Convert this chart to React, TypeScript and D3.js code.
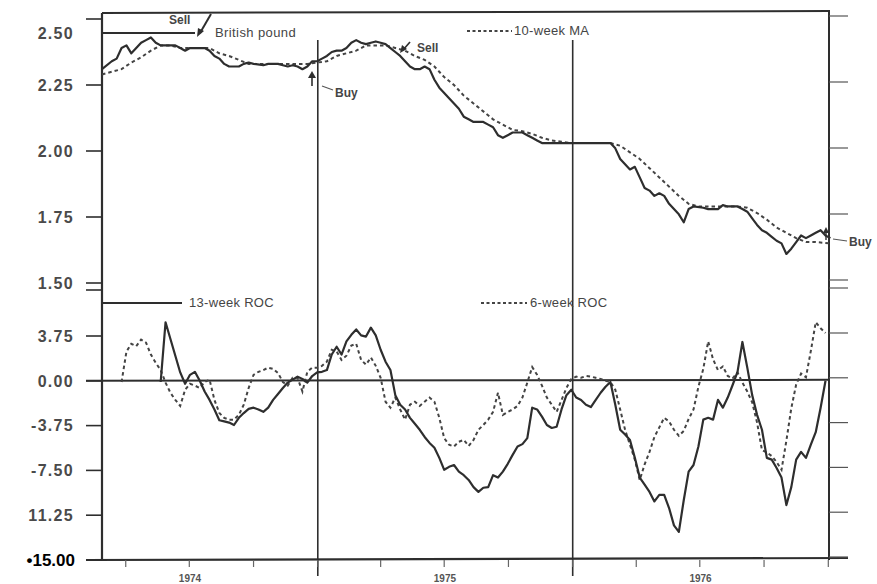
import React from "react";
import * as d3 from "d3";

// ---- time frame (weekly data, week 0 = 26 Feb 1974) ----
const START = new Date(1974, 1, 26);
const END = new Date(1977, 0, 2);

// ---- axis ticks ----
const poundTicks = [2.5, 2.25, 2.0, 1.75, 1.5];
const poundTickLabels = ["2.50", "2.25", "2.00", "1.75", "1.50"];
const rocTicks = [3.75, 0, -3.75, -7.5, -11.25, -15];
const rocTickLabels = ["3.75", "0.00", "-3.75", "-7.50", "11.25", "•15.00"];
const yearLabels = ["1974", "1975", "1976"];
const yearMidDates = [new Date(1974, 6, 2), new Date(1975, 6, 2), new Date(1976, 6, 2)];
const yearStarts = [new Date(1975, 0, 1), new Date(1976, 0, 1)];

// ---- British pound weekly close [week, price] ----
const britishPound: [number, number][] = [
  [0, 2.31], [2, 2.34], [3, 2.35], [4, 2.39], [5, 2.4], [6, 2.37], [7, 2.39], [8, 2.41], [9, 2.42],
  [10, 2.43], [11, 2.41], [12, 2.4], [15, 2.4], [16, 2.39], [17, 2.38], [18, 2.39], [21, 2.39],
  [22, 2.38], [23, 2.36], [24, 2.35], [25, 2.33], [26, 2.32], [28, 2.32], [29, 2.33], [30, 2.335],
  [31, 2.33], [33, 2.325], [34, 2.33], [36, 2.33], [37, 2.325], [38, 2.32], [39, 2.325], [40, 2.32],
  [41, 2.31], [42, 2.32], [43, 2.34], [44, 2.34], [45, 2.35], [46, 2.36], [47, 2.375], [48, 2.38],
  [49, 2.38], [50, 2.39], [51, 2.41], [52, 2.42], [53, 2.41], [54, 2.405], [55, 2.41], [56, 2.415],
  [57, 2.41], [58, 2.405], [59, 2.39], [60, 2.375], [61, 2.36], [62, 2.34], [63, 2.32], [64, 2.31],
  [65, 2.31], [66, 2.32], [67, 2.31], [68, 2.27], [69, 2.24], [70, 2.22], [71, 2.2], [72, 2.18],
  [73, 2.16], [74, 2.13], [75, 2.12], [76, 2.11], [78, 2.11], [79, 2.1], [80, 2.09], [81, 2.06],
  [82, 2.05], [83, 2.06], [84, 2.07], [86, 2.07], [87, 2.06], [88, 2.05], [89, 2.04], [90, 2.03],
  [104, 2.03], [105, 2.01], [106, 1.97], [107, 1.95], [108, 1.93], [109, 1.94], [110, 1.9],
  [111, 1.86], [112, 1.85], [113, 1.83], [114, 1.84], [115, 1.83], [116, 1.8], [117, 1.78],
  [118, 1.76], [119, 1.73], [120, 1.78], [121, 1.79], [123, 1.785], [124, 1.78], [126, 1.78],
  [127, 1.795], [128, 1.79], [130, 1.79], [131, 1.78], [132, 1.77], [133, 1.745], [134, 1.72],
  [135, 1.7], [136, 1.69], [137, 1.675], [138, 1.66], [139, 1.65], [140, 1.61], [141, 1.63],
  [142, 1.655], [143, 1.68], [144, 1.67], [145, 1.68], [146, 1.69], [147, 1.7], [148, 1.68], [149, 1.67],
];

// ---- 10-week moving average [week, value] ----
const movingAverage10: [number, number][] = [
  [0, 2.29], [2, 2.3], [4, 2.31], [6, 2.335], [8, 2.355], [10, 2.38], [12, 2.4], [14, 2.4], [16, 2.39],
  [22, 2.39], [24, 2.37], [26, 2.36], [28, 2.345], [30, 2.33], [42, 2.33], [44, 2.335], [46, 2.34],
  [48, 2.36], [50, 2.37], [52, 2.38], [54, 2.4], [58, 2.4], [60, 2.39], [62, 2.38], [64, 2.36],
  [66, 2.345], [68, 2.32], [70, 2.28], [72, 2.25], [74, 2.21], [76, 2.18], [78, 2.15], [80, 2.12],
  [82, 2.1], [84, 2.08], [86, 2.075], [88, 2.065], [90, 2.05], [92, 2.04], [94, 2.035], [96, 2.03],
  [104, 2.03], [106, 2.02], [108, 1.995], [110, 1.97], [112, 1.935], [114, 1.9], [116, 1.865],
  [118, 1.83], [120, 1.8], [122, 1.79], [130, 1.79], [132, 1.785], [134, 1.765], [136, 1.74],
  [138, 1.71], [140, 1.69], [142, 1.67], [144, 1.655], [146, 1.655], [149, 1.65],
];

// ---- 13-week rate of change, weekly from week 12 ----
const roc13Start = 12;
const roc13: number[] = [
  -0.1, 4.9, 3.5, 2.1, 0.7, -0.25, 0.5, 0.75, 0, -0.9, -1.6, -2.4, -3.3, -3.4, -3.5, -3.7, -3.1, -2.7,
  -2.35, -2.25, -2.4, -2.6, -2.25, -1.6, -1.1, -0.6, -0.15, 0.1, 0.35, 0.15, -0.15, 0.4, 0.7, 0.75,
  0.9, 2.2, 2.85, 2.2, 3.3, 3.85, 4.3, 3.8, 3.7, 4.45, 3.8, 2.6, 1.6, 0.9, -1.2, -2.0, -2.4, -3.1,
  -3.6, -4.1, -4.7, -5.2, -5.6, -6.45, -7.45, -7.2, -7.05, -7.6, -7.9, -8.3, -8.9, -9.3, -8.95, -8.9,
  -7.9, -8.1, -7.6, -6.95, -6.2, -5.5, -5.3, -4.8, -2.25, -2.4, -3.0, -3.7, -3.95, -3.85, -2.4, -1.2,
  -0.75, -1.4, -1.6, -2.0, -2.2, -1.6, -1.0, -0.5, -0.1, -2.0, -4.1, -4.5, -4.95, -6.45, -8.1, -8.7,
  -9.3, -10.1, -9.55, -9.55, -10.65, -12.1, -12.65, -10.0, -7.6, -7.05, -5.5, -3.25, -3.1, -3.25,
  -1.6, -2.25, -1.4, -0.35, 0.75, 3.25, 1.1, -1.2, -2.85, -4.1, -6.45, -6.6, -7.3, -8.1, -10.4,
  -8.9, -6.6, -5.95, -6.45, -5.35, -4.3, -2.25, 0,
];

// ---- 6-week rate of change, weekly from week 4 ----
const roc6Start = 4;
const roc6: number[] = [
  -0.1, 2.45, 3.1, 2.9, 3.45, 3.2, 2.2, 1.5, 0.9, -0.15, -1.0, -1.6, -2.1, -0.75, -0.25, -0.4, -0.6,
  -0.1, 0.1, -1.6, -2.7, -3.1, -3.25, -3.25, -2.85, -2.0, -0.6, 0.5, 0.75, 0.9, 1.1, 1.0, 0.65, -0.1,
  -0.4, 0.25, 0.25, -0.9, 0.75, 1.1, 1.1, 1.25, 1.6, 2.6, 2.45, 1.75, 2.1, 2.95, 3.1, 1.75, 1.35,
  1.95, 1.25, 0.25, -1.75, -2.25, -1.4, -2.4, -3.25, -2.0, -1.75, -2.1, -1.75, -1.4, -1.75, -3.1,
  -4.8, -5.35, -5.5, -5.1, -4.95, -5.45, -4.95, -4.1, -3.7, -3.25, -2.6, -1.0, -2.85, -2.6, -2.4,
  -2.1, -1.4, -0.15, 1.15, 0.5, -0.4, -1.4, -2.0, -2.6, -1.6, -0.6, 0.15, 0.35, 0.25, 0.4, 0.35,
  0.25, 0.15, 0, -0.1, -0.75, -2.4, -4.1, -5.35, -6.6, -8.3, -7.0, -5.95, -4.7, -3.9, -3.1, -3.4,
  -4.1, -4.6, -4.2, -3.2, -2.4, -0.5, 1.0, 3.3, 1.8, 0.9, 1.2, 0.4, 0.2, 0.7, -0.15, -0.9, -1.8,
  -3.5, -5.8, -6.0, -6.3, -6.8, -7.45, -5.0, -2.3, -0.3, 0.6, 0.3, 2.5, 4.9, 4.4, 4.0,
];

const W = 877;
const H = 584;
const LEFT = 102;
const RIGHT = 829;
const FRAME_TOP = 13;
const INK = "#2e2e2e";
const TEXT = "#454545";
const FONT = "'Liberation Sans', Arial, sans-serif";

const weekDate = (w: number) => d3.timeDay.offset(START, w * 7);

export default function App() {
  const x = d3.scaleTime().domain([START, END]).range([LEFT, RIGHT]);
  const yTop = d3.scaleLinear().domain([1.5, 2.5]).range([283, 19]);
  const yBot = d3.scaleLinear().domain([-15, 3.75]).range([560, 336]);

  const topLine = d3
    .line<[number, number]>()
    .x((d) => x(weekDate(d[0])))
    .y((d) => yTop(d[1]));
  const botLine = d3
    .line<[number, number]>()
    .x((d) => x(weekDate(d[0])))
    .y((d) => yBot(d[1]));

  const roc13Pts: [number, number][] = roc13.map((v, i) => [roc13Start + i, v]);
  const roc6Pts: [number, number][] = roc6.map((v, i) => [roc6Start + i, v]);

  const quarterTicks = d3.timeMonth.every(3)!.range(START, END);

  const y0 = yBot(0);
  const panelBreak = yTop(1.5);

  return (
    <svg
      width={W}
      height={H}
      style={{ position: "absolute", left: 0, top: 0, background: "#fff" }}
      fontFamily={FONT}
    >
      <rect x={0} y={0} width={W} height={H} fill="#fff" />

      {/* frame */}
      <line x1={LEFT} x2={LEFT} y1={FRAME_TOP} y2={560} stroke={INK} strokeWidth={2.2} />
      <line x1={RIGHT} x2={RIGHT} y1={10} y2={560} stroke={INK} strokeWidth={2} />
      <line x1={LEFT} x2={RIGHT} y1={FRAME_TOP} y2={FRAME_TOP - 2} stroke={INK} strokeWidth={2} />
      <line x1={86} x2={848} y1={yBot(-15)} y2={yBot(-15) - 2} stroke={INK} strokeWidth={2.2} />

      {/* year dividers */}
      {yearStarts.map((d, i) => (
        <line key={i} x1={x(d)} x2={x(d)} y1={40} y2={576} stroke={INK} strokeWidth={1.6} />
      ))}

      {/* bottom quarter ticks */}
      {quarterTicks.map((d, i) => (
        <line key={i} x1={x(d)} x2={x(d)} y1={560} y2={567} stroke="#666" strokeWidth={1.2} />
      ))}

      {/* top panel ticks */}
      {poundTicks.map((v, i) => (
        <g key={i}>
          <line x1={86} x2={LEFT} y1={yTop(v)} y2={yTop(v)} stroke={INK} strokeWidth={1.6} />
          <line x1={RIGHT} x2={848} y1={yTop(v) - 3} y2={yTop(v) - 3} stroke="#555" strokeWidth={1.2} />
          <text
            x={74}
            y={yTop(v) + (i === 0 ? 14 : 0)}
            dy="0.36em"
            textAnchor="end"
            fontSize={16}
            fontWeight="bold"
            letterSpacing={1.3}
            fill="#4a4a4a"
          >
            {poundTickLabels[i]}
          </text>
        </g>
      ))}
      {/* panel break second tick */}
      <line x1={86} x2={LEFT} y1={panelBreak + 7} y2={panelBreak + 7} stroke={INK} strokeWidth={1.6} />
      <line x1={RIGHT} x2={848} y1={panelBreak + 5} y2={panelBreak + 5} stroke="#555" strokeWidth={1.2} />

      {/* bottom panel ticks */}
      {rocTicks.map((v, i) => {
        const last = i === rocTicks.length - 1;
        return (
          <g key={i}>
            <line x1={86} x2={LEFT} y1={yBot(v)} y2={yBot(v)} stroke={INK} strokeWidth={1.6} />
            <line x1={RIGHT} x2={848} y1={yBot(v) - 3} y2={yBot(v) - 3} stroke="#555" strokeWidth={1.2} />
            <text
              x={last ? 75 : 74}
              y={yBot(v)}
              dy="0.36em"
              textAnchor="end"
              fontSize={last ? 17 : 16}
              fontWeight="bold"
              letterSpacing={last ? 0 : 1.3}
              fill={last ? "#000" : "#4a4a4a"}
            >
              {rocTickLabels[i]}
            </text>
          </g>
        );
      })}

      {/* zero line */}
      <line x1={86} x2={RIGHT} y1={y0} y2={y0 - 1} stroke={INK} strokeWidth={2} />

      {/* year labels */}
      {yearLabels.map((t, i) => (
        <text
          key={t}
          x={x(yearMidDates[i])}
          y={582}
          textAnchor="middle"
          fontSize={10}
          fontWeight="bold"
          fill="#555"
        >
          {t}
        </text>
      ))}

      {/* series */}
      <path d={topLine(movingAverage10) || ""} fill="none" stroke="#444" strokeWidth={2} strokeDasharray="3.5 3" />
      <path d={topLine(britishPound) || ""} fill="none" stroke={INK} strokeWidth={2.2} strokeLinejoin="round" />
      <path d={botLine(roc6Pts) || ""} fill="none" stroke="#444" strokeWidth={2} strokeDasharray="3.5 3" />
      <path d={botLine(roc13Pts) || ""} fill="none" stroke={INK} strokeWidth={2.2} strokeLinejoin="round" />

      {/* legends */}
      <line x1={LEFT} x2={195} y1={33} y2={33} stroke={INK} strokeWidth={2} />
      <text x={215} y={37} fontSize={13} fill={TEXT} letterSpacing={0.4}>British pound</text>
      <line x1={467} x2={512} y1={31} y2={31} stroke="#444" strokeWidth={2} strokeDasharray="3 2.5" />
      <text x={514} y={35} fontSize={13} fill={TEXT} letterSpacing={0.3}>10-week MA</text>
      <line x1={LEFT} x2={182} y1={303} y2={303} stroke={INK} strokeWidth={2} />
      <text x={189} y={307} fontSize={13} fill={TEXT} letterSpacing={0.3}>13-week ROC</text>
      <line x1={481} x2={527} y1={303} y2={303} stroke="#444" strokeWidth={2} strokeDasharray="3 2.5" />
      <text x={530} y={307} fontSize={13} fill={TEXT} letterSpacing={0.3}>6-week ROC</text>

      {/* signals */}
      <text x={169} y={24} fontSize={12} fontWeight="bold" fill={TEXT}>Sell</text>
      <line x1={211} x2={200} y1={14} y2={33} stroke={INK} strokeWidth={2} />
      <path d="M197,37 L198,28 L204,31 Z" fill={INK} />

      <line x1={312} x2={312} y1={86} y2={76} stroke={INK} strokeWidth={1.6} />
      <path d="M312,71 L308,78 L316,78 Z" fill={INK} />
      <line x1={322} x2={333} y1={86} y2={90} stroke="#555" strokeWidth={1.2} />
      <text x={335} y={97} fontSize={12} fontWeight="bold" fill={TEXT}>Buy</text>

      <line x1={410} x2={403} y1={42} y2={50} stroke={INK} strokeWidth={1.6} />
      <path d="M400,53 L402,45 L407,49 Z" fill={INK} />
      <text x={417} y={52} fontSize={12} fontWeight="bold" fill={TEXT}>Sell</text>

      <line x1={826} x2={826} y1={240} y2={231} stroke={INK} strokeWidth={1.4} />
      <path d="M826,227 L823,233 L829,233 Z" fill={INK} />
      <line x1={833} x2={847} y1={239} y2={241} stroke="#555" strokeWidth={1.2} />
      <text x={849} y={246} fontSize={12} fontWeight="bold" fill={TEXT}>Buy</text>
    </svg>
  );
}
